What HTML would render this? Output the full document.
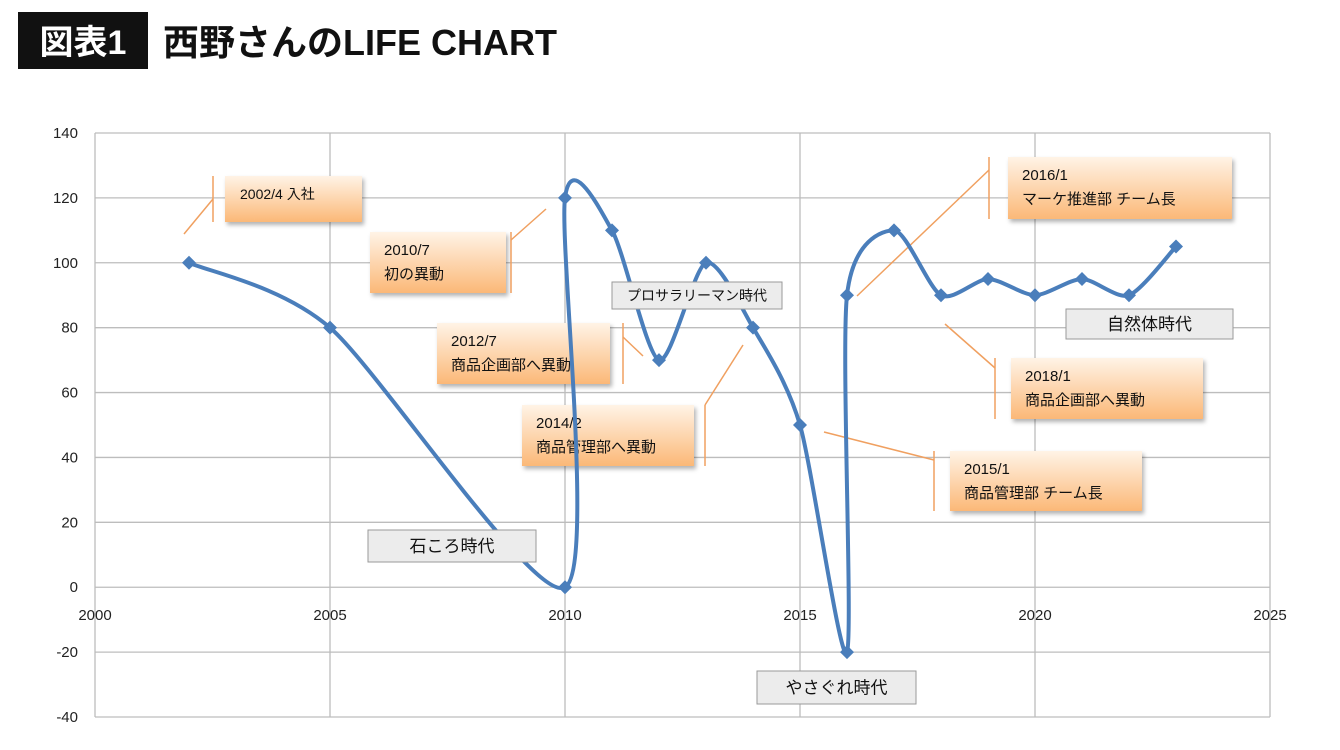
<!DOCTYPE html>
<html><head><meta charset="utf-8"><style>
body{margin:0;width:1340px;height:745px;background:#fff;overflow:hidden;font-family:"Liberation Sans","Noto Sans CJK JP",sans-serif;}
</style></head><body>
<svg width="1340" height="745" xmlns="http://www.w3.org/2000/svg" font-family="Liberation Sans, Noto Sans CJK JP, sans-serif">
<defs>
<linearGradient id="og" x1="0" y1="0" x2="0" y2="1"><stop offset="0" stop-color="#fff3e6"/><stop offset="1" stop-color="#fbb877"/></linearGradient>
<filter id="sh" x="-10%" y="-10%" width="130%" height="140%"><feDropShadow dx="2" dy="3" stdDeviation="2" flood-color="#000" flood-opacity="0.3"/></filter>
</defs>
<rect x="18" y="12" width="130" height="57" fill="#111"/>
<text x="83" y="54" fill="#fff" font-size="34" font-weight="bold" text-anchor="middle">図表1</text>
<text x="163" y="55" fill="#111" font-size="36" font-weight="bold">西野さんのLIFE CHART</text>
<g id="grid"></g>
<g id="ann"></g>
<g id="series"></g>
<g id="eras"></g>
</svg>
<script>
const xTicks=[2000,2005,2010,2015,2020,2025];
const yTicks=[140,120,100,80,60,40,20,0,-20,-40];
const xVals=[2002,2005,2010,2010,2011,2012,2013,2014,2015,2016,2016,2017,2018,2019,2020,2021,2022,2023];
const yVals=[100,80,0,120,110,70,100,80,50,-20,90,110,90,95,90,95,90,105];
const NS='http://www.w3.org/2000/svg';
const X0=95,X1=1270,Y0=133,Y1=717;
const sx=v=>X0+(v-2000)/25*(X1-X0);
const sy=v=>Y0+(140-v)/180*(Y1-Y0);
function mk(t,a,p){const e=document.createElementNS(NS,t);for(const k in a)e.setAttribute(k,a[k]);(p||document.getElementById('grid')).appendChild(e);return e;}
yTicks.forEach(v=>{
 const l=mk('line',{x1:X0,x2:X1,y1:sy(v),y2:sy(v),stroke:'#bdbdbd','stroke-width':1.3});
 
 
 const t=mk('text',{x:78,y:sy(v)+5,'text-anchor':'end','font-size':15,fill:'#222'});t.textContent=v;
 
 
});
xTicks.forEach(v=>{
 const l=mk('line',{x1:sx(v),x2:sx(v),y1:Y0,y2:Y1,stroke:'#bdbdbd','stroke-width':1.3});
 
 
 const t=mk('text',{x:sx(v),y:620,'text-anchor':'middle','font-size':15,fill:'#222'});t.textContent=v;
 
 
});
const a=document.getElementById('ann');
const callouts=[
 [225,176,137,46,213,[213,199,184,234],['2002/4  入社']],
 [370,232,136,61,511,[511,240,546,209],['2010/7','初の異動']],
 [437,323,173,61,623,[623,337,643,356],['2012/7','商品企画部へ異動']],
 [522,405,172,61,705,[705,405,743,345],['2014/2','商品管理部へ異動']],
 [1008,157,224,62,989,[989,170,857,296],['2016/1','マーケ推進部  チーム長']],
 [1011,358,192,61,995,[995,368,945,324],['2018/1','商品企画部へ異動']],
 [950,451,192,60,934,[934,460,824,432],['2015/1','商品管理部 チーム長']]
];
callouts.forEach(c=>{
 const [x,y,w,h,vx,d,lines]=c;
 const r=mk('rect',{x,y,width:w,height:h,fill:'url(#og)',filter:'url(#sh)'},a);
 
 
 mk('line',{x1:vx,x2:vx,y1:y,y2:y+h,stroke:'#f0a060','stroke-width':1.5},a);
 mk('line',{x1:d[0],y1:d[1],x2:d[2],y2:d[3],stroke:'#f0a060','stroke-width':1.5},a);
 lines.forEach((s,i)=>{
  const t=mk('text',{x:x+(lines.length==1?15:14),y:lines.length==1?y+23:y+23+i*24,'font-size':lines.length==1?14:15,fill:'#111'},a);t.textContent=s;
  
  
 });
});
const er=document.getElementById('eras');
const eras=[[368,530,168,32,'石ころ時代',17],[612,282,170,27,'プロサラリーマン時代',14],[1066,309,167,30,'自然体時代',17],[757,671,159,33,'やさぐれ時代',17]];
eras.forEach(e=>{
 const r=mk('rect',{x:e[0],y:e[1],width:e[2],height:e[3],fill:'#ececec',stroke:'#9a9a9a','stroke-width':1},er);
 
 
 const t=mk('text',{x:e[0]+e[2]/2,y:e[1]+e[3]/2+e[5]*0.36,'text-anchor':'middle','font-size':e[5],fill:'#111'},er);t.textContent=e[4];
 
 
});
const s=document.getElementById('series');
const P=xVals.map((v,i)=>[sx(v),sy(yVals[i])]);
let d='M'+P[0][0]+','+P[0][1];
for(let i=0;i<P.length-1;i++){
 const p0=P[Math.max(0,i-1)],p1=P[i],p2=P[i+1],p3=P[Math.min(P.length-1,i+2)];
 const k=0.13;
 d+=` C${p1[0]+(p2[0]-p0[0])*k},${p1[1]+(p2[1]-p0[1])*k} ${p2[0]-(p3[0]-p1[0])*k},${p2[1]-(p3[1]-p1[1])*k} ${p2[0]},${p2[1]}`;
}
const path=mk('path',{d,fill:'none',stroke:'#4a7ebb','stroke-width':4,'stroke-linejoin':'round'},s);


P.forEach(p=>{
 const m=mk('path',{d:`M${p[0]},${p[1]-7}L${p[0]+7},${p[1]}L${p[0]},${p[1]+7}L${p[0]-7},${p[1]}Z`,fill:'#4a7ebb'},s);
 
 
});
</script>
</body></html>
